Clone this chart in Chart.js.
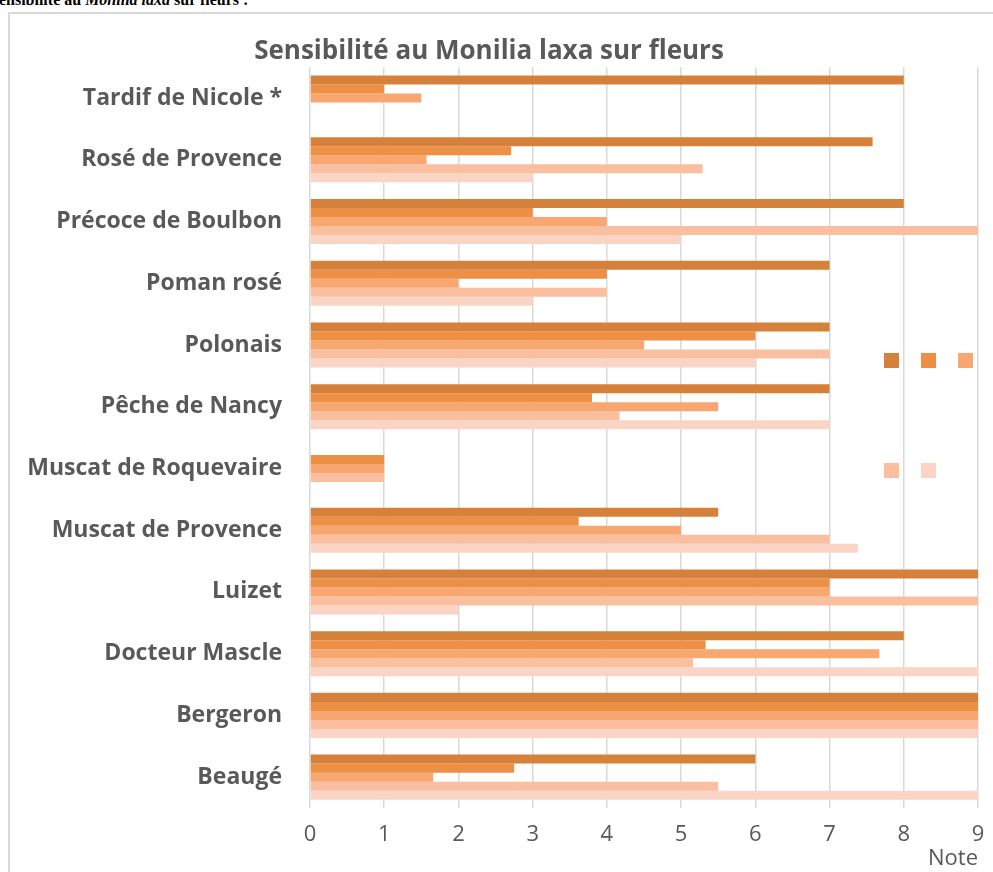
<!DOCTYPE html>
<html lang="fr">
<head>
<meta charset="utf-8">
<title>Sensibilité au Monilia laxa sur fleurs</title>
<script src="https://cdn.jsdelivr.net/npm/chart.js@4.4.1/dist/chart.umd.min.js"></script>
<style>
    html, body { margin: 0; padding: 0; background: #fff; overflow: hidden; }
    body { width: 993px; height: 872px; position: relative; }
    #entete {
        position: absolute; left: -10px; top: -8px;
        font: bold 16px "Liberation Serif", serif; line-height: 16px; color: #000;
        white-space: nowrap;
    }
    #cadre {
        position: absolute; left: 8px; top: 12px; width: 1000px; height: 900px;
        border-left: 2px solid #d9d9d9; border-top: 2px solid #d9d9d9;
    }
    #zone { position: absolute; left: 0; top: 0; }
</style>
</head>
<body>
<div id="entete">Sensibilité au <i>Monilia laxa</i> sur fleurs :</div>
<div id="cadre"></div>
<canvas id="zone" width="993" height="872"></canvas>
<script>
const varietes = ["Tardif de Nicole *", "Rosé de Provence", "Précoce de Boulbon", "Poman rosé",
    "Polonais", "Pêche de Nancy", "Muscat de Roquevaire", "Muscat de Provence",
    "Luizet", "Docteur Mascle", "Bergeron", "Beaugé"];

// notes de sensibilité (0 à 9), une liste par série
const serie1 = [8, 7.58, 8, 7, 7, 7, null, 5.5, 9, 8, 9, 6];
const serie2 = [1, 2.71, 3, 4, 6, 3.8, 1, 3.62, 7, 5.33, 9, 2.75];
const serie3 = [1.5, 1.57, 4, 2, 4.5, 5.5, 1, 5, 7, 7.67, 9, 1.66];
const serie4 = [null, 5.29, 9, 4, 7, 4.17, 1, 7, 9, 5.16, 9, 5.5];
const serie5 = [null, 3, 5, 3, 6, 7, null, 7.38, 2, 9, 9, 9];

const couleurs = ["#d5803b", "#ed9045", "#f7a76f", "#f9bf9f", "#fad5c5"];
const gris = "#595959";

const series = [serie1, serie2, serie3, serie4, serie5];

// petits carrés de légende, sans texte, comme dans l'original
const legendeCarres = {
    id: "legendeCarres",
    afterDraw(chart) {
        const ctx = chart.ctx;
        const places = [[884, 353], [921, 353], [958, 353], [884, 463], [921, 463]];
        ctx.save();
        chart.data.datasets.forEach((ds, i) => {
            ctx.fillStyle = ds.backgroundColor;
            ctx.fillRect(places[i][0], places[i][1], 15, 15);
        });
        ctx.restore();
    }
};

new Chart(document.getElementById("zone"), {
    type: "bar",
    data: {
        labels: varietes,
        datasets: series.map((valeurs, i) => ({
            label: "Série " + (i + 1),
            data: valeurs,
            backgroundColor: couleurs[i],
            borderWidth: 0,
            categoryPercentage: 0.73,
            barPercentage: 1,
        })),
    },
    options: {
        indexAxis: "y",
        responsive: false,
        animation: false,
        layout: { padding: { top: 36, right: 15, bottom: 0, left: 0 } },
        plugins: {
            legend: { display: false },
            tooltip: { enabled: false },
            title: {
                display: true,
                text: "Sensibilité au Monilia laxa sur fleurs",
                color: gris,
                font: { family: "Open Sans", size: 26, weight: "bold" },
                padding: { top: 0, bottom: 0 },
            },
        },
        scales: {
            x: {
                min: 0,
                max: 9,
                ticks: {
                    stepSize: 1,
                    color: gris,
                    padding: 14,
                    font: { family: "Open Sans", size: 22 },
                },
                grid: { color: "#d9d9d9", lineWidth: 1.5, drawTicks: false },
                border: { display: false },
                title: {
                    display: true,
                    text: "Note",
                    align: "end",
                    color: gris,
                    font: { family: "Open Sans", size: 22 },
                    padding: { top: 0, bottom: 0 },
                },
                afterFit: scale => {
                    scale.height = 64;
                    scale.paddingLeft = 0;
                    scale.paddingRight = 0;
                },
            },
            y: {
                ticks: {
                    color: gris,
                    padding: 28,
                    font: { family: "Open Sans", size: 23, weight: "bold" },
                },
                grid: { display: false, drawTicks: false },
                border: { display: false },
                afterFit: scale => { scale.width = 310; },
            },
        },
    },
    plugins: [legendeCarres],
});
</script>
</body>
</html>
